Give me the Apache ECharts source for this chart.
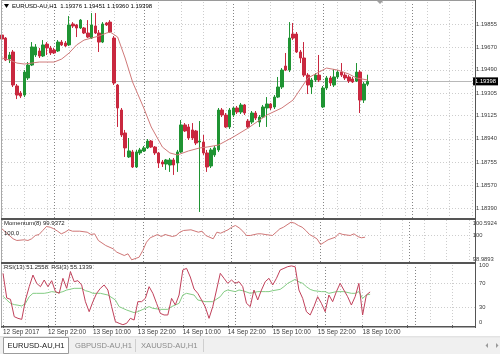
<!DOCTYPE html>
<html><head><meta charset="utf-8">
<script src="https://cdn.jsdelivr.net/npm/echarts@6/dist/echarts.min.js"></script>
<style>html,body{margin:0;padding:0;background:#fff;overflow:hidden}#c{width:500px;height:354px}</style>
</head><body><div id="c"></div>
<script>
const symbolName = 'EURUSD-AU,H1';
const lastOHLC = ['1.19376', '1.19451', '1.19360', '1.19398'];
const timeLabels = ['12 Sep 2017', '12 Sep 22:00', '13 Sep 10:00', '13 Sep 22:00', '14 Sep 10:00', '14 Sep 22:00', '15 Sep 10:00', '15 Sep 22:00', '18 Sep 10:00'];
const priceTicks = [1.18390, 1.18570, 1.18755, 1.18940, 1.19125, 1.19305, 1.19490, 1.19670, 1.19855];
const momTicks = [98.9893, 100, 100.5924];
const rsiTicks = [0, 30, 70, 100];
const rsiLevels = [30, 70];
const daySeparators = [14, 38, 62, 86, 110];
const bidPrice = 1.19398;
const tabs = ['EURUSD-AU,H1', 'GBPUSD-AU,H1', 'XAUUSD-AU,H1'];

// [open, close, low, high]
const candles = [
[1.19767,1.19735,1.19711,1.19783],[1.19743,1.19568,1.19560,1.19751],[1.19576,1.19608,1.19544,1.19632],[1.19632,1.19369,1.19353,1.19648],
[1.19361,1.19289,1.19257,1.19377],[1.19305,1.19281,1.19265,1.19321],[1.19289,1.19472,1.19273,1.19488],[1.19425,1.19528,1.19409,1.19552],
[1.19528,1.19672,1.19520,1.19711],[1.19608,1.19672,1.19592,1.19695],[1.19640,1.19600,1.19584,1.19664],[1.19600,1.19688,1.19592,1.19727],
[1.19695,1.19664,1.19608,1.19711],[1.19664,1.19624,1.19608,1.19680],[1.19648,1.19624,1.19616,1.19664],[1.19640,1.19711,1.19632,1.19727],
[1.19711,1.19688,1.19680,1.19727],[1.19703,1.19680,1.19672,1.19719],[1.19688,1.19847,1.19680,1.19918],[1.19855,1.19839,1.19823,1.19870],
[1.19847,1.19823,1.19751,1.19855],[1.19823,1.19886,1.19815,1.19894],[1.19823,1.19783,1.19775,1.19831],[1.19783,1.19751,1.19743,1.19886],
[1.19743,1.19847,1.19735,1.19942],[1.19839,1.19783,1.19775,1.19942],[1.19783,1.19711,1.19632,1.19807],[1.19711,1.19855,1.19703,1.19870],
[1.19863,1.19847,1.19839,1.19870],[1.19870,1.19791,1.19783,1.19886],[1.19743,1.19385,1.19369,1.19759],[1.19369,1.19186,1.19035,1.19377],
[1.19170,1.18971,1.18955,1.19186],[1.18987,1.18868,1.18796,1.19011],[1.18796,1.18844,1.18788,1.18947],[1.18836,1.18716,1.18708,1.18852],
[1.18716,1.18836,1.18708,1.18852],[1.18828,1.18852,1.18812,1.18868],[1.18844,1.18868,1.18836,1.18883],[1.18868,1.18923,1.18860,1.18939],
[1.18923,1.18875,1.18868,1.18931],[1.18875,1.18828,1.18812,1.18883],[1.18828,1.18748,1.18708,1.18836],[1.18756,1.18740,1.18716,1.18772],
[1.18740,1.18772,1.18693,1.18780],[1.18732,1.18772,1.18677,1.18788],[1.18772,1.18732,1.18653,1.18788],[1.18748,1.18836,1.18677,1.18852],
[1.18836,1.19051,1.18828,1.19090],[1.19051,1.19003,1.18995,1.19066],[1.19035,1.18947,1.18931,1.19058],[1.19011,1.18947,1.18931,1.19066],
[1.19003,1.18907,1.18891,1.19011],[1.18915,1.18923,1.18358,1.19082],[1.18915,1.18828,1.18812,1.18971],[1.18828,1.18716,1.18677,1.18852],
[1.18724,1.18852,1.18708,1.18868],[1.18812,1.18868,1.18796,1.18883],[1.18852,1.19170,1.18836,1.19186],[1.19170,1.19130,1.19114,1.19186],
[1.19130,1.19035,1.19027,1.19146],[1.19035,1.19170,1.19019,1.19186],[1.19130,1.19186,1.19114,1.19194],[1.19186,1.19154,1.19138,1.19202],
[1.19154,1.19210,1.19138,1.19226],[1.19210,1.19146,1.19130,1.19218],[1.19082,1.19035,1.19027,1.19098],[1.19074,1.19146,1.19058,1.19162],
[1.19146,1.19106,1.19090,1.19162],[1.19074,1.19114,1.19035,1.19130],[1.19114,1.19194,1.19106,1.19210],[1.19186,1.19218,1.19035,1.19273],
[1.19218,1.19186,1.19170,1.19226],[1.19194,1.19273,1.19178,1.19289],[1.19273,1.19353,1.19265,1.19433],[1.19353,1.19488,1.19337,1.19504],
[1.19520,1.19488,1.19480,1.19624],[1.19488,1.19743,1.19472,1.19870],[1.19775,1.19743,1.19727,1.19863],[1.19775,1.19632,1.19624,1.19791],
[1.19632,1.19584,1.19544,1.19648],[1.19584,1.19448,1.19433,1.19711],[1.19448,1.19369,1.19297,1.19464],[1.19353,1.19409,1.19297,1.19425],
[1.19409,1.19448,1.19393,1.19464],[1.19448,1.19409,1.19393,1.19608],[1.19194,1.19345,1.19186,1.19361],[1.19345,1.19425,1.19329,1.19441],
[1.19425,1.19385,1.19361,1.19441],[1.19369,1.19433,1.19353,1.19496],[1.19433,1.19472,1.19417,1.19488],[1.19472,1.19448,1.19433,1.19544],
[1.19448,1.19425,1.19409,1.19464],[1.19433,1.19401,1.19385,1.19448],[1.19417,1.19393,1.19385,1.19433],[1.19401,1.19472,1.19393,1.19544],
[1.19472,1.19249,1.19146,1.19488],[1.19249,1.19377,1.19226,1.19393],[1.19376,1.19398,1.19360,1.19451]
];

const maIdx = [0,2,4,6,8,10,14,16,18,20,22,24,26,28,29,31,33,35,38,40,43,45,47,50,53,55,58,62,66,71,75,78,82,87,90,93,95,98];
const maVal = [1.19584,1.19568,1.19544,1.19536,1.19544,1.19552,1.19552,1.19576,1.19624,1.19688,1.19727,1.19743,1.19759,1.19783,1.19791,1.19751,1.19584,1.19393,1.19186,1.19035,1.18875,1.18828,1.18812,1.18844,1.18868,1.18875,1.18891,1.18955,1.19027,1.19130,1.19186,1.19249,1.19425,1.19504,1.19488,1.19456,1.19425,1.19409];

const momIdx = [0,1,3,4,6,7,8,9,10,11,12,13,14,15,16,17,18,19,21,23,24,25,26,28,30,31,33,34,35,37,38,39,40,42,43,44,46,47,48,49,51,53,54,55,57,58,59,61,62,63,64,65,66,67,69,70,71,73,74,75,76,78,79,80,81,82,83,84,85,86,87,88,90,91,92,94,95,96,97,98];
const momVal = [100.256,100.127,99.875,99.810,99.837,99.810,99.875,100.001,100.039,100.192,100.344,100.318,100.256,100.165,100.065,100.127,100.218,100.165,100.165,100.127,100.039,100.065,99.810,99.619,99.493,99.363,99.237,99.302,99.073,99.172,99.428,99.745,99.913,100.039,99.962,100.039,99.962,100.001,100.127,100.192,100.218,100.127,100.165,100.001,99.875,100.127,100.088,100.218,100.318,100.382,100.294,100.165,100.001,100.001,100.065,100.065,100.039,100.001,100.127,100.256,100.318,100.508,100.470,100.382,100.318,100.192,100.039,99.962,99.875,99.657,99.745,99.837,99.936,100.088,100.039,100.001,100.065,99.962,99.913,99.9372];

const rsi3 = [86.1,45,42.8,13.9,11.1,9.4,41.7,63.9,83.3,69.4,63.9,75,63.9,73.9,55.6,52.8,77.8,61.1,88.9,72.2,73.9,66.7,38.9,22.2,38.9,52.8,61.1,66.7,58.3,30.6,5.6,2.8,0.5,2.8,11.1,8.3,38.9,38.9,44.4,63.9,52.8,36.1,19.4,16.7,16.7,44.4,33.3,50,91.7,94.4,80,60,52.8,41.7,30,11.1,30.6,58.3,86.1,77.8,69.4,75,69.4,72.2,63.9,36.1,30.6,58.3,41.7,58.3,72.2,77.8,66.7,77.8,91.7,94.4,97.2,98.5,97,58.3,44.4,22.2,16.7,30.6,47.2,36.1,22.2,50,38.9,55.6,69.4,58.3,47.2,33.3,47.2,69.4,16.7,50,55.1339];

const rsi13Idx = [0,1,2,3,4,5,6,7,8,9,11,12,13,15,16,17,19,21,22,23,24,26,28,30,31,33,35,36,38,39,40,42,44,45,47,48,49,51,52,54,55,56,58,59,60,62,63,64,66,68,70,71,72,74,75,76,78,79,80,81,82,83,85,86,87,89,91,93,94,95,96,97,98];
const rsi13Val = [48,41.7,36.1,34,33,31.7,36.1,47.2,52.8,52.8,52.8,53.9,55.6,53.9,55.6,58.3,61.1,61.1,57.2,55.6,52.8,52.8,50,41.7,30.6,25,20.6,22.2,27.8,30.6,27.8,26.1,26.1,30.6,36.1,50,52.8,50,41.7,38.9,38.9,38.9,47.2,55.6,58.3,55.6,58.3,57.2,52.8,55.6,55.6,55.6,57.2,59.4,63.9,69.4,76.1,72,69.4,63.9,59.4,57.2,55.6,55.6,52.8,55.6,55.6,52.8,52.8,55.6,44.4,50,51.2558];

const chart = echarts.init(document.getElementById('c'), null, {renderer: 'canvas'});
const N = 127;
const cats = Array.from({length: N}, (_, i) => String(i));
const F = '"Liberation Sans", Arial, sans-serif';
const GRIDL = {color: '#cdcdcd', type: [1, 2], width: 1};
const SEPL = {color: '#858585', type: [1, 2], width: 1};
const UP = '#1f9433', DN = '#c9283f';
const pair = (a, b) => a.map((x, k) => [x, b[k]]);
const seps = () => daySeparators.map(x => ({xAxis: x, lineStyle: SEPL}));
const ml = (data) => ({silent: true, symbol: 'none', z: 1, precision: 6, animation: false, label: {show: false}, emphasis: {disabled: true}, data});

const grids = [
  {left: 2, top: 2, width: 473, height: 216},
  {left: 2, top: 220, width: 473, height: 42},
  {left: 2, top: 265, width: 473, height: 60}
];
const xAxes = grids.map((g, k) => ({
  type: 'category', gridIndex: k, data: cats, boundaryGap: false,
  axisLine: {show: false},
  offset: k === 2 ? 2 : 0,
  axisTick: k === 2 ? {show: true, interval: 11, length: 3, lineStyle: {color: '#606060'}} : {show: false},
  axisLabel: k === 2 ? {show: true, interval: 11, align: 'left', margin: 2, fontSize: 6.4, color: '#3a3a3a', fontFamily: F,
    formatter: (v, i) => timeLabels[i / 12] || ''} : {show: false},
  splitLine: {show: true, interval: 5, lineStyle: GRIDL}
}));
const yBase = {type: 'value', position: 'right', splitLine: {show: false}, axisLine: {show: false}, axisTick: {show: false}};
const yAxes = [
  Object.assign({}, yBase, {gridIndex: 0, min: 1.18310, max: 1.20030,
    axisLabel: {customValues: priceTicks, formatter: v => v.toFixed(5), fontSize: 5.8, color: '#3a3a3a', margin: 4, fontFamily: F}}),
  Object.assign({}, yBase, {gridIndex: 1, min: 98.9893, max: 100.5924,
    axisLabel: {customValues: momTicks, formatter: v => v === 100 ? '100' : v.toFixed(4), fontSize: 5.8, color: '#3a3a3a', margin: 4, fontFamily: F,
      verticalAlignMinLabel: 'bottom', verticalAlignMaxLabel: 'top'}}),
  Object.assign({}, yBase, {gridIndex: 2, min: 0, max: 100,
    axisLabel: {customValues: rsiTicks, formatter: v => String(v), fontSize: 5.8, color: '#3a3a3a', margin: 4, fontFamily: F,
      verticalAlignMinLabel: 'bottom'}})
];

const bidLine = {yAxis: bidPrice, lineStyle: {color: '#b8b8b8', type: 'solid', width: 1},
  label: {show: true, position: 'end', formatter: lastOHLC[3], backgroundColor: '#000', color: '#fff',
    padding: [1, 2, 1, 2], fontSize: 5.8, distance: 1, fontFamily: F}};

const series = [
  {type: 'line', xAxisIndex: 0, yAxisIndex: 0, data: [], silent: true,
    markLine: ml(priceTicks.map(v => ({yAxis: v, lineStyle: GRIDL})).concat(seps()).concat([bidLine]))},
  {type: 'candlestick', xAxisIndex: 0, yAxisIndex: 0, data: candles, barWidth: 3, silent: true,
    itemStyle: {color: UP, color0: DN, borderColor: UP, borderColor0: DN, borderWidth: 1}},
  {type: 'line', xAxisIndex: 0, yAxisIndex: 0, data: pair(maIdx, maVal), symbol: 'none', silent: true,
    lineStyle: {color: '#d07a7a', width: 1}, z: 3},
  {type: 'line', xAxisIndex: 1, yAxisIndex: 1, data: [], silent: true,
    markLine: ml([{yAxis: 100, lineStyle: GRIDL}].concat(seps()))},
  {type: 'line', xAxisIndex: 1, yAxisIndex: 1, data: pair(momIdx, momVal), symbol: 'none', silent: true,
    lineStyle: {color: '#cf7676', width: 1}},
  {type: 'line', xAxisIndex: 2, yAxisIndex: 2, data: [], silent: true,
    markLine: ml(rsiLevels.map(v => ({yAxis: v, lineStyle: GRIDL})).concat(seps()))},
  {type: 'line', xAxisIndex: 2, yAxisIndex: 2, data: pair(rsi13Idx, rsi13Val), symbol: 'none', silent: true,
    lineStyle: {color: '#84cc84', width: 1}},
  {type: 'line', xAxisIndex: 2, yAxisIndex: 2, data: rsi3, symbol: 'none', silent: true,
    lineStyle: {color: '#c0405a', width: 1}}
];

const txt = (x, y, s, o) => ({type: 'text', x, y, silent: true, z: 50,
  style: Object.assign({text: s, fontSize: 6, fontFamily: F, fill: '#000', verticalAlign: 'middle'}, o || {})});
const rect = (x, y, w, h, fill, stroke) => ({type: 'rect', silent: true, z: 40, shape: {x, y, width: w, height: h},
  style: {fill: fill || 'none', stroke: stroke || null, lineWidth: 1}});

const graphic = [
  rect(1, 0, 475, 1, '#9a9a9a'),
  rect(1, 0, 1, 328, '#a8a8a8'),
  rect(475, 0, 1, 328, '#555'),
  rect(1, 218, 475, 2, '#555'),
  rect(1, 262, 475, 2, '#555'),
  rect(1, 326, 475, 1.5, '#555'),
  {type: 'polygon', silent: true, z: 50, shape: {points: [[4, 4], [9, 4], [6.5, 8]]}, style: {fill: '#000'}},
  txt(12, 6.5, symbolName + '  ' + lastOHLC.join(' ')),
  {type: 'polygon', silent: true, z: 50, shape: {points: [[377, 1], [383, 1], [380, 4]]}, style: {fill: '#a0a0a0'}},
  txt(4, 223.5, 'Momentum(8) ' + momVal[momVal.length - 1].toFixed(4), {fill: '#222'}),
  txt(4, 233, '100.0', {fill: '#222'}),
  txt(4, 267, 'RSI(13) ' + rsi13Val[rsi13Val.length - 1].toFixed(4) + '  RSI(3) ' + rsi3[rsi3.length - 1].toFixed(4), {fill: '#222'}),
  rect(0, 336, 500, 18, '#f0f0f0'),
  rect(0, 336.5, 500, 0.8, '#d6d6d6'),
  rect(3.5, 337.5, 65, 16, '#fff', '#9c9c9c'),
  txt(36, 345.5, tabs[0], {fontSize: 7.6, fill: '#222', align: 'center'}),
  txt(75, 345.5, tabs[1], {fontSize: 7.6, fill: '#8c8c8c'}),
  rect(135, 339, 1, 13, '#cfcfcf'),
  txt(141, 345.5, tabs[2], {fontSize: 7.6, fill: '#8c8c8c'}),
  rect(203, 339, 1, 13, '#cfcfcf'),
  {type: 'polygon', silent: true, z: 50, shape: {points: [[488, 343], [488, 348], [485.5, 345.5]]}, style: {fill: '#9a9a9a'}},
  {type: 'polygon', silent: true, z: 50, shape: {points: [[496, 343], [496, 348], [498.5, 345.5]]}, style: {fill: '#9a9a9a'}}
];

chart.setOption({
  animation: false, backgroundColor: '#fff',
  textStyle: {fontFamily: F},
  grid: grids, xAxis: xAxes, yAxis: yAxes, series, graphic
});
</script></body></html>
